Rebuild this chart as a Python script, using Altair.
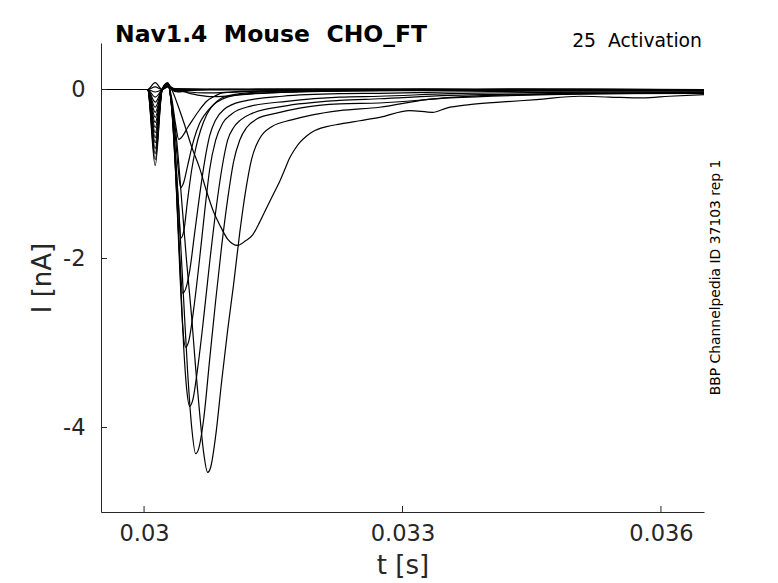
import altair as alt
import pandas as pd

# ---------------- data (times in ms, currents in nA) ----------------
PRE_T = [29.5, 29.8, 30.0, 30.04, 30.129, 30.21]
PRE_I = [0.0, 0.0, 0.0, 0.0, None, 0.0]   # None = the capacitive dip of each sweep

SWEEP_NAMES = ["F0", "F1", "F2", "S1", "S2", "T9", "T8", "T7", "T6", "T5",
               "T4", "T3", "T2", "T1", "H1", "H2", "H3"]
DIPS = [0.08, 0.03, -0.03, -0.09, -0.15, -0.21, -0.27, -0.33, -0.39, -0.45,
        -0.51, -0.57, -0.63, -0.70, -0.76, -0.83, -0.90]

T_FLAT = [30.274, 30.355, 31.226, 32.966, 34.707, 36.5]
I_F0 = [0.03, 0.01, 0.0, 0.005, -0.005, 0.0]
I_F1 = [0.03, 0.005, 0.0, 0.0, 0.005, 0.0]
I_F2 = [0.04, 0.0, -0.005, 0.0, 0.0, -0.005]

T_S1 = [30.274, 30.355, 30.529, 30.703, 30.936, 31.342, 32.386, 34.127, 36.5]
I_S1 = [0.04, 0.0, -0.03, -0.04, -0.035, -0.02, -0.01, -0.005, 0.0]

T_S2 = [30.274, 30.355, 30.471, 30.645, 30.796, 30.994, 31.284, 31.806, 32.966, 36.5]
I_S2 = [0.05, 0.0, -0.03, -0.07, -0.085, -0.075, -0.05, -0.03, -0.015, -0.01]

T_T9 = [30.274, 30.320, 30.390, 30.471, 30.553, 30.645, 30.727, 30.808, 30.877, 30.970,
        31.086, 31.179, 31.261, 31.342, 31.423, 31.505, 31.574, 31.632, 31.690, 31.748,
        31.806, 31.887, 31.957, 32.119, 32.270, 32.502, 32.734, 33.082, 33.349, 33.512,
        33.779, 34.127, 34.556, 35.055, 35.403, 35.786, 36.099, 36.5]
I_T9 = [0.06, 0.0, -0.18, -0.42, -0.68, -0.93, -1.21, -1.45, -1.6, -1.77,
        -1.845, -1.79, -1.72, -1.57, -1.4, -1.23, -1.09, -0.95, -0.81, -0.71,
        -0.63, -0.55, -0.5, -0.44, -0.41, -0.37, -0.33, -0.25, -0.27, -0.22,
        -0.18, -0.15, -0.12, -0.08, -0.09, -0.1, -0.08, -0.06]

T_T8 = [30.274, 30.320, 30.378, 30.448, 30.495, 30.553, 30.599, 30.645, 30.692, 30.738,
        30.773, 30.831, 30.901, 30.970, 31.040, 31.110, 31.179, 31.249, 31.342, 31.481,
        31.713, 31.957, 32.270, 32.734, 33.279, 34.046, 35.287, 36.5]
I_T8 = [0.07, -0.15, -0.6, -1.46, -2.05, -2.7, -3.3, -3.83, -4.3, -4.53,
        -4.47, -4.1, -3.45, -2.85, -2.3, -1.7, -1.2, -0.82, -0.58, -0.44,
        -0.36, -0.3, -0.25, -0.21, -0.12, -0.07, -0.05, -0.045]

T_T7 = [30.274, 30.320, 30.367, 30.413, 30.460, 30.506, 30.553, 30.599,
        30.634, 30.692, 30.761, 30.831, 30.901, 30.970, 31.040, 31.110, 31.191, 31.307,
        31.539, 31.806, 32.270, 32.734, 33.547, 34.707, 36.5]
I_T7 = [0.07, -0.18, -0.8, -1.6, -2.5, -3.35, -4.0, -4.31,
        -4.25, -3.9, -3.2, -2.5, -1.85, -1.3, -0.85, -0.6, -0.45, -0.35,
        -0.28, -0.22, -0.17, -0.16, -0.1, -0.06, -0.04]

T_T6 = [30.274, 30.320, 30.367, 30.413, 30.460, 30.495, 30.529,
        30.564, 30.622, 30.692, 30.761, 30.831, 30.901, 30.970, 31.040, 31.121, 31.261,
        31.609, 32.270, 32.734, 33.547, 34.707, 36.5]
I_T6 = [0.07, -0.2, -0.95, -2.0, -3.05, -3.55, -3.75,
        -3.68, -3.3, -2.7, -2.05, -1.45, -0.95, -0.6, -0.45, -0.36, -0.28,
        -0.2, -0.13, -0.11, -0.07, -0.05, -0.035]

T_T5 = [30.274, 30.320, 30.367, 30.413, 30.448, 30.483,
        30.518, 30.576, 30.645, 30.703, 30.761, 30.831, 30.912, 31.017, 31.226, 31.656,
        32.270, 32.734, 33.547, 34.707, 36.5]
I_T5 = [0.07, -0.2, -1.0, -2.1, -2.8, -3.05,
        -2.98, -2.6, -2.0, -1.45, -0.95, -0.6, -0.4, -0.29, -0.2, -0.14,
        -0.09, -0.08, -0.05, -0.035, -0.03]

T_T4 = [30.274, 30.320, 30.367, 30.413, 30.448,
        30.483, 30.529, 30.587, 30.645, 30.703, 30.761, 30.831, 30.924, 31.144, 31.609,
        32.270, 32.734, 33.547, 34.707, 36.5]
I_T4 = [0.07, -0.22, -1.0, -1.95, -2.41,
        -2.36, -2.15, -1.7, -1.25, -0.85, -0.55, -0.36, -0.24, -0.14, -0.08,
        -0.05, -0.045, -0.03, -0.02, -0.02]

T_T3 = [30.274, 30.320, 30.367, 30.402, 30.425,
        30.460, 30.506, 30.553, 30.599, 30.657, 30.727, 30.843, 31.110, 31.690, 32.734, 36.5]
I_T3 = [0.07, -0.2, -0.85, -1.4, -1.76,
        -1.68, -1.3, -0.95, -0.7, -0.48, -0.3, -0.15, -0.06, -0.03, -0.01, 0.0]

T_T2 = [30.274, 30.320, 30.367, 30.402, 30.425,
        30.460, 30.506, 30.576, 30.645, 30.703, 30.785, 30.901, 31.110, 31.574, 32.734, 36.5]
I_T2 = [0.07, -0.15, -0.6, -1.0, -1.16,
        -1.1, -0.9, -0.6, -0.4, -0.3, -0.2, -0.1, -0.05, -0.02, -0.01, 0.0]

T_T1 = [30.274, 30.320, 30.367, 30.402,
        30.448, 30.506, 30.564, 30.645, 30.727, 30.819, 30.912, 31.226, 31.806, 36.5]
I_T1 = [0.07, -0.1, -0.42, -0.59,
        -0.55, -0.45, -0.36, -0.24, -0.14, -0.08, -0.04, -0.02, -0.01, 0.0]

T_H = [30.274, 30.320, 30.390, 30.529, 30.994, 32.966, 34.707, 36.5]
I_H1 = [0.07, 0.0, -0.03, -0.01, 0.0, 0.005, 0.0, 0.0]
I_H2 = [0.07, 0.01, -0.02, -0.01, 0.005, 0.0, -0.005, 0.0]
I_H3 = [0.08, 0.0, -0.02, 0.0, 0.0, 0.0, 0.005, -0.005]

SWEEPS = [(T_FLAT, I_F0), (T_FLAT, I_F1), (T_FLAT, I_F2), (T_S1, I_S1), (T_S2, I_S2),
          (T_T9, I_T9), (T_T8, I_T8), (T_T7, I_T7), (T_T6, I_T6), (T_T5, I_T5),
          (T_T4, I_T4), (T_T3, I_T3), (T_T2, I_T2), (T_T1, I_T1),
          (T_H, I_H1), (T_H, I_H2), (T_H, I_H3)]

X_TICKS = [0.03, 0.033, 0.036]
Y_TICKS = [0, -2, -4]
NB = "\u00a0"
TITLE = "Nav1.4 " + NB + "Mouse " + NB + "CHO_FT"
RIGHT_NOTE = "25 " + NB + "Activation"
SIDE_NOTE = "BBP Channelpedia ID 37103 rep 1"

# ---------------- table ----------------
rows = []
for k, (name, dip, (ts, vs)) in enumerate(zip(SWEEP_NAMES, DIPS, SWEEPS)):
    pre_i = [dip if v is None else v for v in PRE_I]
    for j, (tm, cur) in enumerate(zip(PRE_T + ts, pre_i + vs)):
        rows.append({"sweep": name, "order": j, "t": tm / 1000.0, "I": cur})
df = pd.DataFrame(rows)

AX = "#262626"
FONT = "DejaVu Sans"

xscale = alt.Scale(domain=[0.0295, 0.0365], nice=False, zero=False)
yscale = alt.Scale(domain=[-5, 0.55], nice=False, zero=False)

XAX = alt.Axis(values=X_TICKS, format=".3~f", title="t [s]", grid=False, ticks=False,
               domainColor=AX, labelColor=AX, titleColor=AX,
               labelFontSize=22.5, titleFontSize=26, labelFont=FONT, titleFont=FONT,
               titleFontWeight="normal", labelPadding=10,
               titleBaseline="alphabetic", titleY=61)
YAX = alt.Axis(values=Y_TICKS, title="I [nA]", grid=False, ticks=False,
               labelExpr="replace(datum.label, '\u2212', '-')",
               domainColor=AX, labelColor=AX, titleColor=AX,
               labelFontSize=22.5, titleFontSize=26, labelFont=FONT, titleFont=FONT,
               titleFontWeight="normal", labelPadding=16,
               titleBaseline="middle", titleX=-59)

lines = alt.Chart(df).mark_line(color="black", strokeWidth=1.2, interpolate="monotone").encode(
    x=alt.X("t:Q", scale=xscale, axis=XAX),
    y=alt.Y("I:Q", scale=yscale, axis=YAX),
    detail="sweep:N",
    order="order:Q",
)

xticks = alt.Chart(pd.DataFrame({"t": X_TICKS})).mark_rule(color=AX, strokeWidth=1).encode(
    x=alt.X("t:Q", scale=xscale, axis=XAX), y=alt.value(469), y2=alt.value(463))
yticks = alt.Chart(pd.DataFrame({"I": Y_TICKS})).mark_rule(color=AX, strokeWidth=1).encode(
    y=alt.Y("I:Q", scale=yscale, axis=YAX), x=alt.value(0), x2=alt.value(6))

title_txt = alt.Chart(pd.DataFrame({"s": [TITLE]})).mark_text(
    align="left", baseline="alphabetic", font=FONT, fontSize=23.5, fontWeight="bold", color="black"
).encode(x=alt.value(14), y=alt.value(-1), text="s:N")

note_txt = alt.Chart(pd.DataFrame({"s": [RIGHT_NOTE]})).mark_text(
    align="right", baseline="alphabetic", font=FONT, fontSize=18.8, color="black"
).encode(x=alt.value(601), y=alt.value(4), text="s:N")

side_txt = alt.Chart(pd.DataFrame({"s": [SIDE_NOTE]})).mark_text(
    align="center", baseline="middle", font=FONT, fontSize=13.9, angle=270, color="black"
).encode(x=alt.value(615), y=alt.value(234.5), text="s:N")

chart = alt.layer(lines, xticks, yticks, title_txt, note_txt, side_txt).properties(
    width=603, height=469,
    padding={"left": 93, "top": 35, "right": 66, "bottom": 68},
    autosize=alt.AutoSizeParams(type="none"),
).configure(font=FONT).configure_view(stroke=None)

chart.save("out.html", embed_options={"renderer": "svg", "actions": False})
